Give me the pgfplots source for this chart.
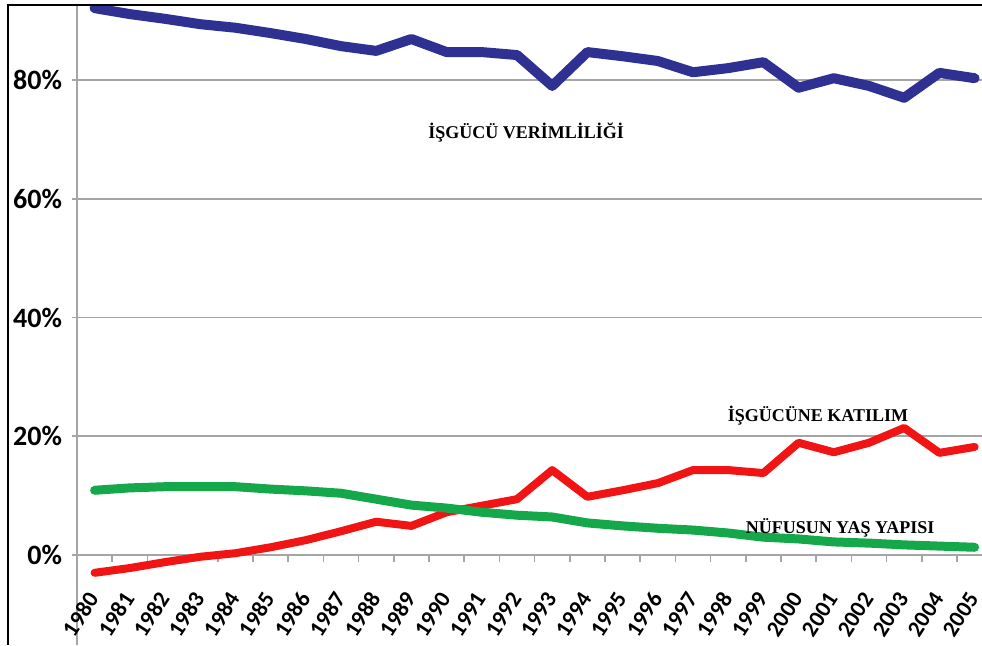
\documentclass[border=0pt]{standalone}
\usepackage{pgfplots}
\pgfplotsset{compat=1.18}
\usepackage{fontspec}
\setmainfont{Carlito}
\newfontfamily\timesb{Liberation Serif}
\definecolor{cblue}{RGB}{46,49,146}
\definecolor{cred}{RGB}{240,20,20}
\definecolor{cgreen}{RGB}{20,168,74}
\definecolor{cgrid}{RGB}{165,165,165}
\begin{document}
\begin{tikzpicture}
\useasboundingbox (0,0) rectangle (491pt,322.5pt);
\begin{axis}[
  at={(38.5pt,0pt)}, anchor=south west,
  width=452.5pt, height=319.5pt, scale only axis,
  xmin=-0.5, xmax=25.21, ymin=-15.16, ymax=92.46,
  axis x line=middle, axis y line=left,
  axis line style={-, cgrid, line width=0.8pt},
  /pgf/number format/assume math mode=true,
  ytick={0,20,40,60,80},
  yticklabel={\pgfmathprintnumber{\tick}\%},
  yticklabel style={font=\bfseries\fontsize{14}{14}\selectfont, xshift=-1.5pt},
  ymajorgrids, grid style={cgrid, line width=0.8pt},
  y tick style={cgrid, line width=0.8pt},
  tick align=outside, major tick length=2.5pt,
  xtick={0,...,25},
  xticklabel={\pgfmathtruncatemacro\yr{\tick+1980}\yr},
  major x tick style={draw=none},
  xticklabel style={xshift=1.5pt, yshift=-14.5pt, rotate=57, anchor=east, font=\bfseries\fontsize{11.5}{11.5}\selectfont},
  extra x ticks={0.5,1.5,...,24.5},
  extra x tick labels={},
  extra x tick style={tick align=outside, major tick length=3.5pt, major x tick style={draw=cgrid, line width=0.8pt}},
  every axis plot/.append style={line join=round, line cap=round, no markers},
]
\addplot[cblue, line width=5pt] coordinates {
(0,92.1) (1,91.1) (2,90.3) (3,89.4) (4,88.8) (5,87.9) (6,86.9) (7,85.7) (8,84.9) (9,86.9)
(10,84.7) (11,84.7) (12,84.2) (13,79.0) (14,84.7) (15,84.0) (16,83.2) (17,81.3) (18,82.0) (19,83.0)
(20,78.7) (21,80.3) (22,79.0) (23,77.0) (24,81.2) (25,80.3)};
\addplot[cred, line width=4pt] coordinates {
(0,-3.0) (1,-2.2) (2,-1.2) (3,-0.3) (4,0.3) (5,1.3) (6,2.5) (7,4.0) (8,5.6) (9,4.9)
(10,7.2) (11,8.3) (12,9.4) (13,14.3) (14,9.8) (15,10.9) (16,12.1) (17,14.3) (18,14.3) (19,13.8)
(20,18.9) (21,17.3) (22,18.9) (23,21.4) (24,17.2) (25,18.2)};
\addplot[cgreen, line width=4.5pt] coordinates {
(0,10.9) (1,11.3) (2,11.5) (3,11.5) (4,11.5) (5,11.1) (6,10.8) (7,10.4) (8,9.4) (9,8.4)
(10,7.9) (11,7.2) (12,6.7) (13,6.4) (14,5.4) (15,4.9) (16,4.5) (17,4.2) (18,3.7) (19,3.0)
(20,2.7) (21,2.2) (22,2.0) (23,1.7) (24,1.5) (25,1.3)};
\node[font=\timesb\bfseries\fontsize{9}{10}\selectfont] at (axis cs:12.26,71.1) {İŞGÜCÜ VERİMLİLİĞİ};
\node[font=\timesb\bfseries\fontsize{9}{10}\selectfont] at (axis cs:20.55,23.4) {İŞGÜCÜNE KATILIM};
\node[font=\timesb\bfseries\fontsize{9}{10}\selectfont] at (axis cs:21.18,4.55) {NÜFUSUN YAŞ YAPISI};
\end{axis}
\draw[black, line width=1pt] (4pt,0) -- (4pt,319.8pt) -- (491pt,319.8pt);
\end{tikzpicture}
\end{document}
